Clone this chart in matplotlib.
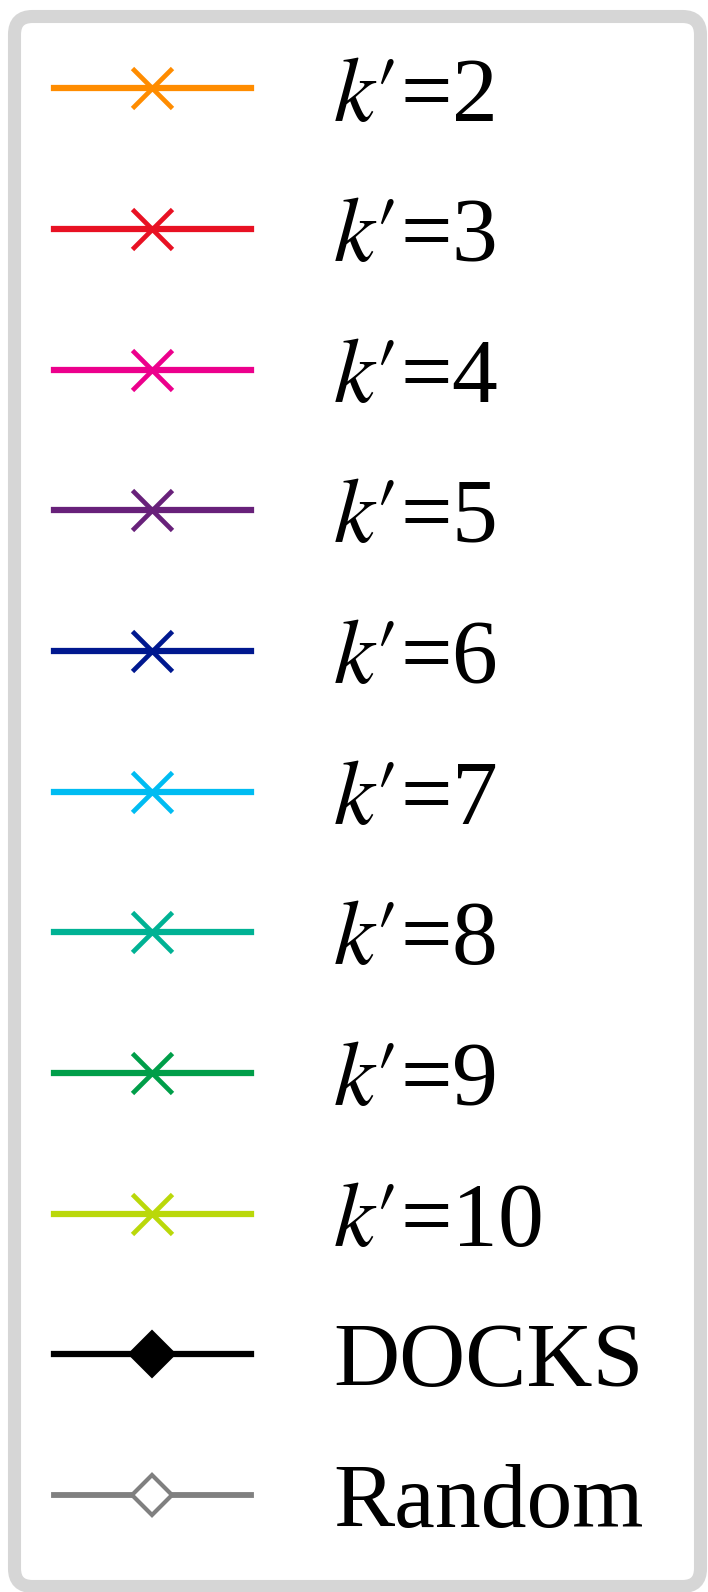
import matplotlib
matplotlib.use("Agg")
import matplotlib.pyplot as plt
from matplotlib.lines import Line2D

plt.rcParams["font.family"] = ["Liberation Serif", "DejaVu Serif"]
plt.rcParams["mathtext.fontset"] = "stix"

# Legend entries
k_values = [2, 3, 4, 5, 6, 7, 8, 9, 10]
k_colors = ["#ff8c00", "#e81123", "#ec008c", "#68217a", "#00188f",
            "#00bcf2", "#00b294", "#009e49", "#bad80a"]
extra_labels = ["DOCKS", "Random"]
extra_colors = ["#000000", "#808080"]

W, H, DPI = 708, 1592, 100
fig = plt.figure(figsize=(W / DPI, H / DPI), dpi=DPI)
ax = fig.add_axes([0, 0, 1, 1])
ax.set_axis_off()

handles, labels = [], []
for k, c in zip(k_values, k_colors):
    handles.append(Line2D([], [], color=c, lw=4.5, marker="x",
                          markersize=28.5, markeredgewidth=3.4))
    labels.append("$k′$=" + str(k))

handles.append(Line2D([], [], color=extra_colors[0], lw=4.5, marker="D",
                      markersize=23, markeredgewidth=1.5,
                      markerfacecolor=extra_colors[0]))
labels.append(extra_labels[0])
handles.append(Line2D([], [], color=extra_colors[1], lw=4.2, marker="D",
                      markersize=20, markeredgewidth=3.0,
                      markerfacecolor="white"))
labels.append(extra_labels[1])

fs = 66
left, right, top = 14, 700, 16
leg = fig.legend(handles, labels, loc="upper left", mode="expand",
                 bbox_to_anchor=(left / W, 0, (right - left) / W, 1 - top / H),
                 bbox_transform=fig.transFigure, borderaxespad=0,
                 fontsize=fs, frameon=True, fancybox=True,
                 framealpha=1, edgecolor="#d6d6d6", facecolor="white",
                 handlelength=2.14, handletextpad=0.905, borderpad=0.44,
                 labelspacing=0.627, handleheight=0.7, numpoints=1)
leg.get_frame().set_linewidth(9.4)

fig.savefig("out.png", dpi=DPI)
